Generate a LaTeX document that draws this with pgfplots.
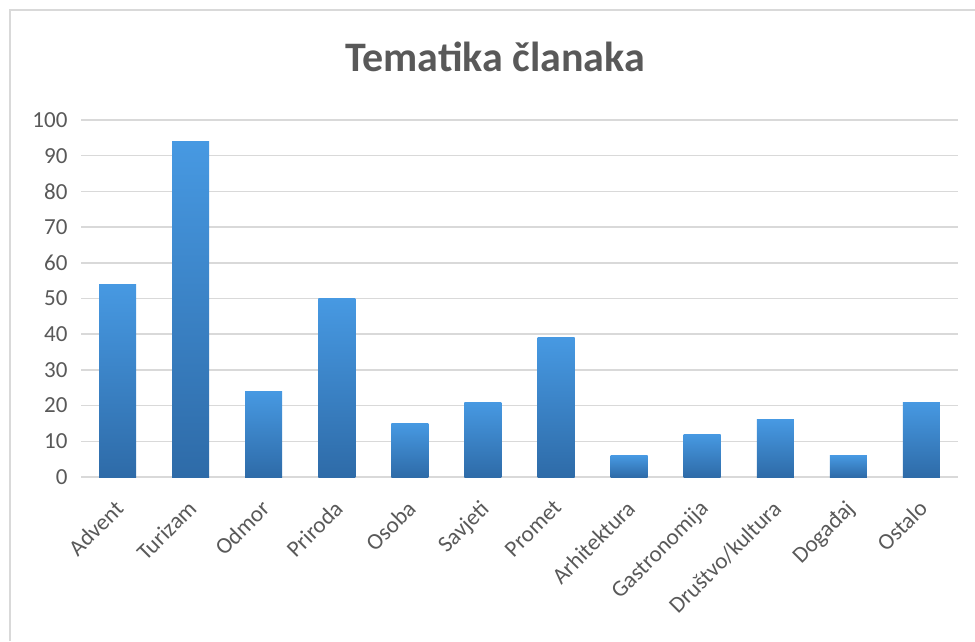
\documentclass[border=0pt]{standalone}
\usepackage{fontspec}
\setmainfont{Carlito}
\usepackage{pgfplots}
\pgfplotsset{compat=1.18}
\definecolor{txt}{HTML}{595959}
\definecolor{gridc}{HTML}{D9D9D9}
\definecolor{bartop}{HTML}{4799E2}
\definecolor{barbot}{HTML}{2E6BA8}
\begin{document}
\begin{tikzpicture}[x=1pt,y=1pt]
\path[use as bounding box] (0,0) rectangle (975,641);
\draw[gridc, line width=1.2pt] (10,0) -- (10,631) -- (975,631);
\node[text=txt, font=\fontsize{42}{48}\selectfont\bfseries] at (495,584) {Tematika članaka};
\begin{axis}[
  at={(81pt,164pt)}, anchor=south west,
  scale only axis, width=877pt, height=357pt,
  xmin=-0.5, xmax=11.5, ymin=0, ymax=100,
  ytick={0,10,...,100},
  xtick={0,...,11},
  xticklabels={Advent,Turizam,Odmor,Priroda,Osoba,Savjeti,Promet,Arhitektura,Gastronomija,Društvo/kultura,Događaj,Ostalo},
  axis line style={draw=none},
  major tick length=0pt,
  ymajorgrids, grid style={gridc, line width=1.5pt},
  /pgf/number format/assume math mode=true,
  tick label style={text=txt, font=\fontsize{23}{27}\selectfont},
  yticklabel style={xshift=-10pt},
  xticklabel style={anchor=north east, xshift=-4pt, yshift=-17pt, rotate=45},
  clip=false,
  mybar/.style={ybar, bar width=37pt, bar shift=0pt, draw=none, mark=none, top color=bartop, bottom color=barbot},
]
\addplot[mybar] coordinates {(0,54)};
\addplot[mybar] coordinates {(1,94)};
\addplot[mybar] coordinates {(2,24)};
\addplot[mybar] coordinates {(3,50)};
\addplot[mybar] coordinates {(4,15)};
\addplot[mybar] coordinates {(5,21)};
\addplot[mybar] coordinates {(6,39)};
\addplot[mybar] coordinates {(7,6)};
\addplot[mybar] coordinates {(8,12)};
\addplot[mybar] coordinates {(9,16)};
\addplot[mybar] coordinates {(10,6)};
\addplot[mybar] coordinates {(11,21)};
\end{axis}
\end{tikzpicture}
\end{document}
